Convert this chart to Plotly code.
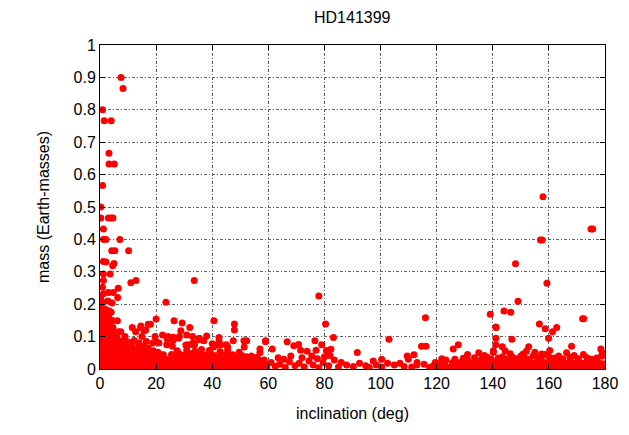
import plotly.graph_objects as go

# (inclination deg, mass Earth-masses)
high_prograde = [(7.5,0.90),(8.2,0.866),(0.9,0.80),(1.5,0.766),(4.0,0.766),(3.2,0.666),(3.2,0.633),(5.1,0.633),
    (0.9,0.566),(0.3,0.50),(0.3,0.466),(3.0,0.466),(4.0,0.466),(4.6,0.466),(1.2,0.432),(1.2,0.40),(2.1,0.40),
    (7.1,0.40),(4.2,0.365),(5.3,0.365),(10.2,0.365),(1.2,0.332),(2.1,0.330),(5.0,0.326),(4.5,0.319),(1.2,0.293),
    (3.6,0.293),(1.2,0.273),(11.0,0.266),(12.8,0.273),(33.6,0.273),(0.9,0.252),(3.0,0.236),(4.7,0.236),(6.5,0.249),
    (6.3,0.221),(0.2,0.204),(1.0,0.206),(4.3,0.204),(23.5,0.206),(0.2,0.218),(1.2,0.232),(2.8,0.21)]

core_low_inc = [(0.4,0.19),(1.8,0.185),(3.2,0.18),(0.9,0.172),(2.5,0.168),(4.0,0.175),(0.3,0.158),(1.7,0.155),
    (3.1,0.16),(4.5,0.15),(0.9,0.142),(2.4,0.145),(3.8,0.138),(0.3,0.128),(1.7,0.13),(3.1,0.125),(4.6,0.128),
    (0.9,0.115),(2.4,0.112),(3.8,0.118),(5.3,0.11),(0.3,0.1),(1.7,0.098),(3.1,0.102),(4.5,0.095),(6.0,0.098),
    (0.9,0.085),(2.4,0.088),(3.8,0.083),(5.3,0.086),(6.8,0.084)]

mid_prograde = [(20.0,0.154),(26.4,0.149),(29.3,0.142),(40.6,0.149),(47.9,0.139),(47.9,0.12),(18.0,0.138),
    (14.5,0.128),(11.5,0.128),(15.7,0.118),(32.0,0.128),(28.8,0.118),(6.2,0.149),(7.4,0.115),(12.7,0.115),
    (17.2,0.138),(14.6,0.133),(16.3,0.12),(6.5,0.115),(30.9,0.105),(33.0,0.10),(35.4,0.095),(38.0,0.102),
    (42.4,0.097),(42.4,0.085),(37.0,0.087),(40.0,0.078),(41.3,0.073),(40.4,0.068),(33.3,0.082),(33.3,0.074),
    (47.5,0.087),(51.3,0.087),(52.3,0.087),(59.0,0.087),(30.6,0.074),(45.5,0.068),(51.4,0.068),(57.0,0.062),
    (31.6,0.075),(33.7,0.075),(45.0,0.075),(43.0,0.075),(23.8,0.075),(20.0,0.085),(21.0,0.08),(35.4,0.09),
    (26.0,0.088),(24.0,0.092),(7.5,0.086),(9.0,0.09),(10.5,0.082),(12.2,0.088),(14.0,0.08),(16.5,0.085),
    (18.8,0.08),(8.9,0.10),(14.9,0.10),(19.6,0.10),(22.3,0.105),(24.3,0.10),(26.1,0.098),(28.3,0.10),
    (25.8,0.07),(28.0,0.095),(27.5,0.056),(30.9,0.058),(33.8,0.055),(36.2,0.06),(39.0,0.057),(42.8,0.054),
    (45.5,0.058),(49.6,0.052)]

dense_prograde = [(0.3,0.005),(1.7,0.007),(3.0,0.004),(4.6,0.006),(6.0,0.008),(7.4,0.005),(8.9,0.006),(10.3,0.004),
    (11.8,0.007),(13.2,0.005),(14.7,0.006),(16.1,0.004),(17.6,0.007),(19.0,0.005),(20.5,0.006),(21.9,0.004),
    (23.3,0.007),(24.8,0.005),
    (0.9,0.019),(2.4,0.017),(3.8,0.02),(5.2,0.018),(6.7,0.016),(8.1,0.019),(9.6,0.018),(11.0,0.02),(12.5,0.017),
    (13.9,0.019),(15.4,0.018),(16.8,0.02),(18.3,0.016),(19.7,0.019),(21.2,0.018),(22.6,0.02),(24.0,0.017),
    (0.3,0.031),(1.7,0.033),(3.1,0.030),(4.5,0.032),(6.0,0.029),(7.4,0.033),(8.9,0.031),(10.3,0.030),(11.8,0.032),
    (13.2,0.029),(14.6,0.033),(16.1,0.031),(17.5,0.030),(19.0,0.032),(20.4,0.029),(21.9,0.033),(23.3,0.031),
    (24.7,0.030),
    (0.9,0.045),(2.4,0.043),(3.8,0.046),(5.2,0.044),(6.7,0.042),(8.1,0.045),(9.6,0.044),(11.0,0.046),(12.5,0.043),
    (13.9,0.045),(15.4,0.044),(16.8,0.042),(18.3,0.045),(19.7,0.043),(21.2,0.046),(22.6,0.044),
    (0.3,0.058),(1.7,0.056),(3.1,0.059),(4.5,0.057),(6.0,0.055),(7.4,0.058),(8.8,0.060),(10.3,0.056),(11.7,0.058),
    (13.2,0.055),(14.6,0.057),(16.0,0.059),(17.5,0.054),(19.0,0.056),(20.6,0.052),
    (0.9,0.071),(2.4,0.069),(3.8,0.072),(5.3,0.070),(6.8,0.068),(8.4,0.072),(9.9,0.066),(11.5,0.070),(13.6,0.067),
    (15.3,0.069),(17.2,0.064),
    (26.2,0.006),(27.6,0.004),(29.1,0.007),(30.5,0.005),(32.0,0.006),(33.4,0.004),(34.9,0.007),(36.3,0.005),
    (37.8,0.006),(39.2,0.004),(40.7,0.007),(42.1,0.005),(43.6,0.006),(45.0,0.004),(46.5,0.007),(47.9,0.005),
    (49.4,0.006),(50.8,0.004),(52.3,0.007),(53.7,0.005),(55.2,0.006),(56.6,0.004),(58.1,0.007),(59.5,0.005),
    (25.5,0.018),(26.9,0.02),(28.4,0.017),(29.8,0.019),(31.3,0.018),(32.7,0.02),(34.2,0.016),(35.6,0.019),
    (37.1,0.018),(38.5,0.02),(40.0,0.017),(41.4,0.019),(42.9,0.018),(44.3,0.02),(45.8,0.016),(47.2,0.019),
    (48.7,0.018),(50.1,0.02),(51.6,0.017),(53.0,0.019),(54.5,0.018),(55.9,0.016),(57.4,0.019),(58.8,0.017),
    (26.2,0.032),(27.6,0.030),(29.1,0.033),(30.5,0.031),(32.0,0.029),(33.4,0.032),(34.9,0.031),(36.3,0.033),
    (37.8,0.030),(39.2,0.032),(40.7,0.029),(42.1,0.031),(43.6,0.033),(45.0,0.030),(46.5,0.032),(47.9,0.029),
    (49.4,0.031),(50.8,0.028),(52.3,0.030),(53.7,0.027),(55.2,0.029),(56.8,0.026),(58.5,0.028),
    (25.5,0.045),(26.9,0.043),(28.4,0.046),(29.8,0.042),(31.3,0.044),(32.7,0.047),(34.2,0.043),(35.6,0.045),
    (37.1,0.042),(38.5,0.046),(40.0,0.044),(41.4,0.041),(42.9,0.045),(44.3,0.043),(45.8,0.040),(47.3,0.044),
    (48.9,0.039),(50.5,0.042),(52.2,0.038),(54.0,0.040),(56.0,0.036)]

middle_inc = [(59.0,0.084),(61.4,0.062),(66.7,0.084),(69.1,0.072),(70.8,0.076),(71.5,0.058),(73.8,0.055),
    (76.6,0.087),(79.0,0.075),(80.4,0.139),(78.0,0.225),(83.2,0.097),(82.3,0.061),(80.7,0.057),(77.0,0.058),
    (57.0,0.05),(91.7,0.051),(103.0,0.092),(97.4,0.025),(100.4,0.03),(109.5,0.04),(109.9,0.03),(111.9,0.044),
    (114.6,0.07),(116.2,0.07),(113.0,0.02),(116.0,0.158),
    (61.0,0.02),(62.5,0.008),(64.0,0.015),(66.0,0.005),(67.5,0.022),(69.5,0.01),(71.0,0.018),(72.8,0.006),
    (74.5,0.025),(76.0,0.012),(78.0,0.004),(79.5,0.02),(81.5,0.01),(83.5,0.028),(85.0,0.006),(87.9,0.012),
    (90.3,0.008),(94.7,0.01),(100.4,0.006),(104.9,0.012),(106.9,0.018),(108.4,0.008),(111.1,0.006),(112.9,0.012),
    (118.8,0.01),(63.5,0.035),(65.5,0.03),(68.0,0.04),(72.0,0.035),(75.5,0.04),(77.5,0.032),(80.0,0.038),
    (82.0,0.042),(86.0,0.02),(92.5,0.018),(96.0,0.005),(98.5,0.012),(102.5,0.018),(115.5,0.015),(117.5,0.005),
    (119.5,0.02)]

dense_retrograde = [(120.5,0.006),(122.0,0.004),(123.4,0.007),(124.9,0.005),(126.3,0.006),(127.8,0.004),
    (129.2,0.007),(130.7,0.005),(132.1,0.006),(133.6,0.004),(135.0,0.007),(136.5,0.005),(137.9,0.006),(139.4,0.004),
    (140.8,0.007),(142.3,0.005),(143.7,0.006),(145.2,0.004),(146.6,0.007),(148.1,0.005),(149.5,0.006),(151.0,0.004),
    (152.4,0.007),(153.9,0.005),(155.3,0.006),(156.8,0.004),(158.2,0.007),(159.7,0.005),(161.1,0.006),(162.6,0.004),
    (164.0,0.007),(165.5,0.005),(166.9,0.006),(168.4,0.004),(169.8,0.007),(171.3,0.005),(172.7,0.006),(174.2,0.004),
    (175.6,0.007),(177.1,0.005),(178.5,0.006),(179.7,0.004),
    (121.2,0.018),(122.7,0.02),(125.6,0.019),(127.0,0.017),(128.5,0.02),(130.0,0.018),(131.4,0.021),(132.9,0.017),
    (134.3,0.019),(135.8,0.022),(137.2,0.018),(138.7,0.02),(140.1,0.017),(141.6,0.021),(143.0,0.019),(144.5,0.022),
    (145.9,0.018),(147.4,0.02),(148.8,0.017),(150.3,0.021),(151.7,0.019),(153.2,0.022),(154.6,0.018),(156.1,0.02),
    (157.5,0.023),(159.0,0.019),(160.4,0.021),(161.9,0.018),(163.3,0.022),(164.8,0.02),(166.2,0.017),(167.7,0.021),
    (169.1,0.019),(170.6,0.022),(172.0,0.018),(173.5,0.02),(174.9,0.017),(176.4,0.021),(177.8,0.019),(179.3,0.016),
    (121.8,0.032),(123.3,0.028),(126.5,0.03),(129.5,0.033),(131.0,0.029),(133.5,0.035),(136.0,0.031),(138.0,0.036),
    (139.5,0.03),(142.0,0.034),(143.5,0.038),(145.0,0.03),(147.0,0.036),(148.5,0.032),(150.0,0.04),(151.5,0.034),
    (153.0,0.03),(154.5,0.042),(155.8,0.036),(157.2,0.033),(158.5,0.045),(160.0,0.038),(162.0,0.034),(163.5,0.04),
    (165.0,0.031),(166.3,0.05),(167.5,0.036),(169.0,0.042),(170.5,0.032),(172.3,0.045),(173.5,0.035),(175.0,0.03),
    (177.0,0.034),(178.8,0.04),(179.0,0.05)]

high_retrograde = [(157.9,0.532),(175.6,0.432),(175.0,0.432),(157.6,0.398),(157.0,0.398),(148.1,0.325),
    (159.3,0.265),(149.0,0.209),(139.1,0.169),(144.0,0.179),(146.4,0.175),(172.4,0.155),(172.0,0.155),
    (141.2,0.128),(141.1,0.13),(156.6,0.139),(158.7,0.124),(161.3,0.115),(162.8,0.128),(141.1,0.095),
    (141.1,0.075),(146.8,0.092),(159.9,0.095),(125.9,0.062),(127.7,0.075),(143.4,0.069),(152.8,0.069),
    (168.1,0.07),(178.5,0.062),(179.0,0.04),(177.0,0.028),(140.2,0.056),(144.4,0.056),(146.2,0.047),
    (160.3,0.057),(157.4,0.046),(150.8,0.046),(140.2,0.051),(131.0,0.045),(135.0,0.05),(137.0,0.042),
    (152.0,0.055),(155.0,0.052)]

groups = [high_prograde, core_low_inc, mid_prograde, dense_prograde, middle_inc, dense_retrograde, high_retrograde]
inclination = [p[0] for g in groups for p in g]
mass = [p[1] for g in groups for p in g]

fig = go.Figure(go.Scatter(x=inclination, y=mass, mode="markers",
                           marker=dict(color="#ff0000", size=7, line=dict(width=0)),
                           showlegend=False, hoverinfo="skip"))

font = dict(family="Liberation Sans, Arial, sans-serif", size=16, color="black")
axis_common = dict(showgrid=True, gridcolor="#606060", griddash="3px,2px,1px,2px", gridwidth=1,
                   showline=True, linecolor="black", linewidth=1, mirror="ticks",
                   ticks="inside", ticklen=5, tickcolor="black", zeroline=False,
                   tickfont=font)
fig.update_xaxes(range=[0, 180], dtick=20, tick0=0,
                 title=dict(text="inclination (deg)", font=font, standoff=16), **axis_common)
fig.update_yaxes(range=[0, 1], dtick=0.1, tick0=0, tickformat="~g",
                 title=dict(text="mass (Earth-masses)", font=font, standoff=19), **axis_common)
fig.update_layout(width=629, height=435, margin=dict(l=100, r=24, t=45, b=66),
                  paper_bgcolor="white", plot_bgcolor="white",
                  title=dict(text="HD141399", x=0.56, xanchor="center", y=0.96, yanchor="middle", font=font))
fig.write_html("out.html")
